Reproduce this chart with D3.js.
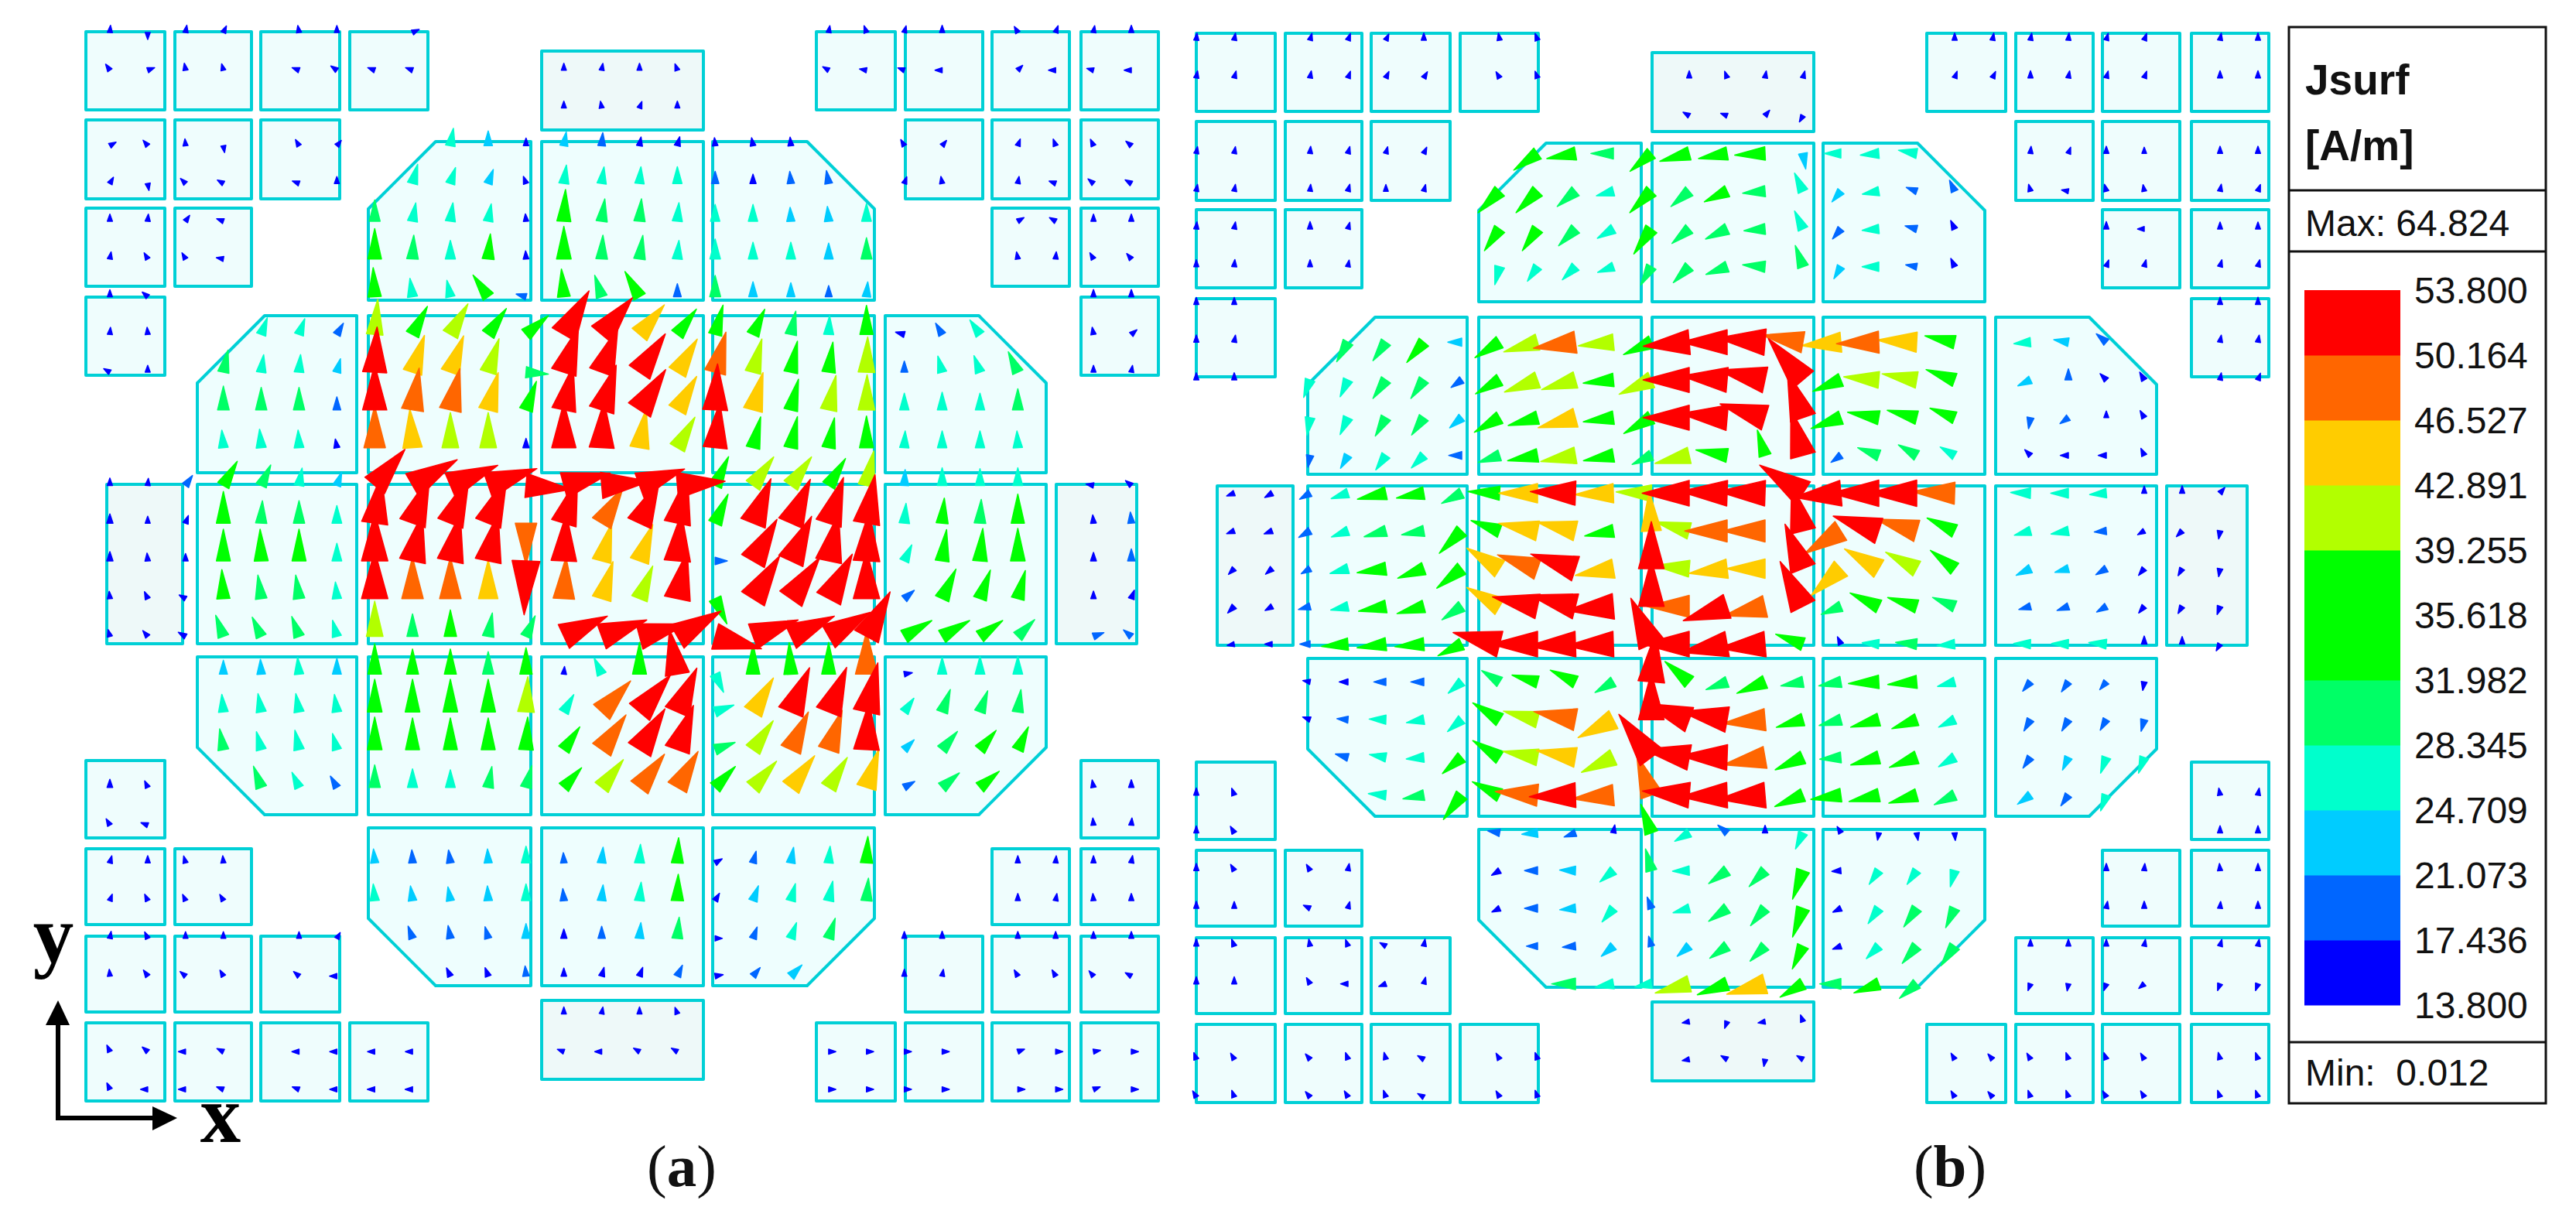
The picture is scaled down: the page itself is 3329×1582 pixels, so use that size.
<!DOCTYPE html>
<html>
<head>
<meta charset="utf-8">
<style>
  html, body { margin: 0; background: #fff; }
  svg { display: block; }
  text { font-family: "Liberation Sans", Arial, sans-serif; fill: #111; }
</style>
<script src="https://cdnjs.cloudflare.com/ajax/libs/d3/7.8.5/d3.min.js"></script>
</head>
<body>
<div id="chart"></div>
<script>
// legend values, from the colour bar
var legendTicks = [53.800, 50.164, 46.527, 42.891, 39.255, 35.618, 31.982, 28.345, 24.709, 21.073, 17.436, 13.800];
var bandThresholds = [17.436, 21.073, 24.709, 28.345, 31.982, 35.618, 39.255, 42.891, 46.527, 50.164];
var bandColors = ["#0000ff", "#0066ff", "#00ccff", "#00ffcc", "#00ff66", "#00ff00", "#00ff00", "#b2ff00", "#ffcc00", "#ff6600", "#ff0000"];
var legendTitle = ["Jsurf", "[A/m]"];
var legendMax = "Max: 64.824";
var legendMin = "Min:  0.012";

// patch layout of the array, model units measured from the array centre
var smallX = [[-694,-592],[-579,-480],[-468,-366],[-353,-252],[250,352],[365,465],[477,577],[592,692]];
var smallY = [[-691,-590],[-577,-475],[-463,-362],[-348,-247],[251,351],[365,463],[478,576],[590,691]];
var smallRows = [[0,1,2,3,4,5,6,7],[0,1,2,5,6,7],[0,1,6,7],[0,7],[0,7],[0,1,6,7],[0,1,2,5,6,7],[0,1,2,3,4,5,6,7]];
var bigX = [[-550,-344],[-329,-119],[-105,104],[116,325],[339,547]];
var bigY = [[-549,-344],[-324,-121],[-106,100],[117,321],[338,542]];
var bigCells = [[1,0,"tl"],[2,0,""],[3,0,"tr"],
  [0,1,"tl"],[1,1,""],[2,1,""],[3,1,""],[4,1,"tr"],
  [0,2,""],[1,2,""],[2,2,""],[3,2,""],[4,2,""],
  [0,3,"bl"],[1,3,""],[2,3,""],[3,3,""],[4,3,"br"],
  [1,4,"bl"],[2,4,""],[3,4,"br"]];
var narrowX = [[-667,-569],[560,664]];
var narrowY = [[-666,-564],[561,663]];

function span(a, b) { return d3.range(a, b + 1); }

// surface current samples, one entry per mesh row: mesh columns, magnitude (A/m), direction (deg, 0 = +y, clockwise)
var colsA = [
  [0,1,2,3,5,6,8,19,20,21,22,24,25,26,27],
  [0,1,2,3,5,6,7,8,...span(12,15),19,20,21,22,24,25,26,27],
  span(12,15),
  [0,1,2,3,5,6,...span(9,18),21,22,24,25,26,27],
  [0,1,2,3,5,6,...span(8,19),21,22,24,25,26,27],
  [0,1,2,3,...span(7,20),24,25,26,27],
  [0,1,2,3,...span(7,20),24,25,26,27],
  [0,1,...span(7,20),26,27],
  [0,1,4,5,6,...span(7,20),21,22,23,26,27],
  [0,1,...span(3,24),26,27],
  span(3,24),
  span(3,24),
  [0,1,2,...span(3,24),26,27],
  [0,1,2,...span(3,24),26,27],
  [0,1,2,...span(3,24),26,27],
  [0,1,2,...span(3,24),26,27],
  [0,1,2,...span(3,24),26,27],
  span(3,24),
  span(3,24),
  span(3,24),
  [0,1,...span(4,23),26,27],
  [0,1,26,27],
  [0,1,2,3,...span(7,20),24,25,26,27],
  [0,1,2,3,...span(7,20),24,25,26,27],
  [0,1,2,3,5,6,...span(8,19),21,22,24,25,26,27],
  [0,1,2,3,5,6,...span(9,18),21,22,24,25,26,27],
  span(12,15),
  [0,1,2,3,5,6,7,8,...span(12,15),19,20,21,22,24,25,26,27],
  [0,1,2,3,5,6,7,8,19,20,21,22,24,25,26,27]
];
var magA = [
  [8,7,9,8,8,7,9,7,8,7,8,7,8,7,8],
  [9,9,8,6,9,9,9,9,7,7,7,7,7,8,7,8,7,8,7,8,8,7],
  [7,7,7,7],
  [8,8,7,7,8,7,26,23,10,22,21,15,17,12,12,14,8,7,8,8,8,8],
  [8,8,8,7,8,7,28,25,23,10,27,25,25,25,20,17,20,21,8,8,8,7,8,8],
  [8,8,8,8,29,27,27,26,9,37,30,30,27,25,25,22,23,26,8,8,8,8],
  [8,8,8,8,36,31,27,32,12,38,31,31,27,28,25,25,24,29,8,8,8,8],
  [7,8,35,27,25,33,18,34,30,35,21,29,23,22,19,23,8,8],
  [8,8,26,25,21,41,37,41,37,35,57,55,45,37,36,34,31,27,35,16,21,26,9,9],
  [8,7,30,26,26,22,52,45,45,41,30,54,54,53,45,48,40,37,36,41,19,25,26,30,7,7],
  [31,30,30,21,52,49,49,45,36,52,54,55,45,53,45,37,41,41,25,26,25,29],
  [26,27,26,15,48,45,41,41,17,52,53,45,41,52,37,37,36,37,25,25,25,25],
  [9,8,20,34,30,26,22,54,58,58,58,52,55,55,55,55,37,41,41,37,41,24,26,25,26,10,10],
  [17,7,12,37,30,30,26,55,57,57,57,48,54,48,54,56,37,55,55,55,56,28,32,31,35,13,19],
  [17,11,9,37,37,37,26,55,55,55,55,60,54,45,45,55,20,55,56,55,56,26,37,38,38,14,20],
  [9,10,9,35,31,31,25,55,48,48,45,20,48,45,41,55,34,57,57,57,55,21,38,36,35,10,16],
  [8,10,13,30,29,29,25,41,30,33,31,30,55,55,55,57,55,55,55,55,57,37,37,34,31,19,18],
  [22,23,25,24,36,32,32,30,33,10,26,37,52,28,36,37,37,49,12,25,26,26],
  [26,27,27,26,38,38,38,38,41,28,49,55,55,28,46,55,55,57,25,31,30,30],
  [29,27,28,25,38,37,37,37,38,34,49,55,54,29,41,48,48,54,22,31,32,32],
  [12,8,30,25,21,30,27,26,29,30,33,41,48,48,35,41,46,41,46,20,30,32,10,10],
  [9,8,8,8],
  [9,8,8,8,22,21,21,22,25,18,24,27,32,12,20,24,25,33,8,8,8,9],
  [7,8,7,8,25,23,22,23,25,20,24,27,33,14,24,26,28,30,8,8,8,8],
  [8,8,6,6,6,6,21,21,20,23,17,20,24,29,8,20,25,29,7,8,7,7,7,7],
  [7,9,8,7,8,9,16,16,18,12,16,17,20,12,19,24,7,7,8,8,7,7],
  [7,7,7,7],
  [8,8,8,8,8,8,8,8,7,7,7,7,8,8,8,8,8,8,8,8],
  [8,8,8,8,8,8,9,9,8,8,8,8,8,8,8,8]
];
var angA = [
  [5,180,10,25,-10,0,65,10,-20,15,0,-30,20,10,0],
  [-35,70,-10,-15,-70,-55,-70,-70,0,10,0,-20,-60,-80,-70,-90,45,-90,-75,-90,-70,-50],
  [0,-10,20,0],
  [60,-40,-5,170,-30,40,10,0,0,10,5,10,15,-5,-10,-5,-30,40,20,-20,-25,-50],
  [30,170,-45,-60,-70,0,15,18,20,-20,8,8,5,0,0,0,-5,-10,20,-10,10,-70,-50,-60],
  [0,5,35,-70,0,10,8,10,-5,3,8,5,5,0,0,-3,-5,0,60,-60,0,0],
  [10,-30,-30,-80,0,3,0,5,-3,0,3,8,5,0,0,0,0,0,-10,5,-30,-40],
  [0,-50,-3,-8,-12,-35,-75,-5,-18,-30,0,0,0,0,0,5,0,0],
  [5,-5,20,20,30,5,28,30,35,50,30,40,40,37,15,25,12,3,0,-75,-30,-35,-10,50],
  [-60,0,12,8,5,15,3,18,20,18,95,18,20,34,31,15,15,12,8,2,0,-15,-20,-25,0,10],
  [0,0,0,0,0,9,13,15,20,12,18,33,30,3,15,14,12,1,0,0,0,0],
  [-5,-5,-3,-10,0,-4,0,0,0,0,3,10,30,6,14,12,11,0,3,0,0,-3],
  [0,5,35,30,25,10,20,40,60,67,71,95,75,85,70,85,25,36,36,32,12,3,0,0,0,-80,-50],
  [0,0,20,0,3,0,0,8,20,22,22,180,17,31,25,12,24,22,24,18,10,5,5,3,0,-5,-5],
  [0,-5,0,0,-2,0,0,0,12,12,12,182,3,15,20,5,90,30,25,12,3,25,8,5,0,0,0],
  [-5,-25,-60,-3,-8,-8,-5,0,0,0,0,0,3,17,22,12,155,32,35,28,0,50,25,20,15,0,20],
  [-15,-40,-60,-20,-25,-20,-15,0,0,0,10,24,65,70,75,60,105,70,65,60,28,60,60,55,45,70,-50],
  [0,-3,-5,0,0,0,0,0,0,5,-25,0,-10,155,0,-3,0,0,80,0,0,0],
  [-5,-10,-10,-8,0,0,0,0,3,30,43,40,24,70,31,23,22,13,35,20,20,8],
  [-10,-15,-12,-15,0,0,0,0,3,35,35,32,20,70,35,25,19,3,45,40,40,25],
  [0,-25,-20,-25,-30,0,0,0,10,15,42,38,37,30,44,42,37,32,18,60,50,50,-10,0],
  [-30,-70,-5,5],
  [15,0,-15,-5,-5,-3,-8,-3,0,-3,5,3,3,60,15,10,5,3,0,5,0,10],
  [20,-25,-25,-30,-5,-8,-10,-3,0,-5,5,5,2,30,20,15,12,5,0,10,-5,0],
  [10,-25,0,0,0,30,-20,-10,-15,0,0,0,5,5,90,20,20,18,0,0,0,0,0,0],
  [-5,-35,-50,-30,-50,-90,-25,-20,-5,0,15,20,25,80,40,45,0,10,-30,-30,-40,-60],
  [0,10,0,-20],
  [-25,-50,-90,-65,-90,-90,-90,-90,-70,-90,-60,-60,90,90,90,90,70,90,80,90],
  [-25,-90,-90,-70,-70,-90,-90,-90,90,90,90,90,90,90,70,90]
];

var colsB = [
  [-1,0,2,3,4,5,7,8,19,20,21,22,23,24,26,27],
  [-1,0,2,3,4,5,7,8,...span(12,15),19,20,21,22,23,24,26,27],
  span(12,15),
  [-1,0,2,3,4,5,...span(8,18),21,22,23,24,26,27],
  [-1,0,2,3,4,5,...span(7,19),21,22,23,24,26,27],
  [-1,0,2,3,...span(7,19),23,24,26,27],
  [-1,0,2,3,...span(7,19),23,24,26,27],
  [-1,0,26,27],
  [-1,0,...span(3,19),21,22,23,26,27],
  [-1,0,...span(2,19),21,22,23,24,26,27],
  [...span(2,19),21,22,23,24],
  [...span(2,19),21,22,23,24],
  [...span(0,19),21,22,23,24,25,26],
  [...span(0,19),21,22,23,24,25,26],
  [...span(0,19),21,22,23,24,25,26],
  [...span(0,19),21,22,23,24,25,26],
  [...span(0,19),21,22,23,24,25,26],
  [...span(2,19),21,22,23,24],
  [...span(2,19),21,22,23,24],
  [...span(3,19),21,22,23,24],
  [-1,0,...span(4,19),21,22,23,26,27],
  [-1,0,...span(7,19),26,27],
  [-1,0,2,3,...span(7,19),23,24,26,27],
  [-1,0,2,3,...span(7,19),23,24,26,27],
  [-1,0,2,3,4,5,...span(8,19),21,22,23,24,26,27],
  [-1,0,2,3,4,5,...span(9,18),21,22,23,24,26,27],
  span(12,15),
  [-1,0,2,3,4,5,7,8,...span(12,15),19,20,21,22,23,24,26,27],
  [-1,0,2,3,4,5,7,8,19,20,21,22,23,24,26,27]
];
var magB = [
  [8,8,8,8,7,8,8,8,8,8,8,8,8,8,8,8],
  [8,8,8,8,8,8,8,8,8,8,8,8,8,8,8,8,8,8,8,8,8,8],
  [8,7,8,8],
  [7,7,8,8,7,7,35,35,30,34,36,35,36,24,25,27,27,8,6,8,4,8,8],
  [7,7,7,8,6,7,36,36,31,26,36,31,32,30,28,22,25,19,20,8,7,8,6,8,8],
  [8,8,9,7,33,33,31,27,36,30,31,29,28,21,25,20,17,9,6,7,7],
  [7,8,7,6,27,26,27,25,29,30,30,30,30,22,25,19,16,8,8,8,8],
  [7,7,8,8],
  [8,8,30,30,33,22,35,41,49,41,36,53,53,55,48,46,49,46,36,25,23,21,8,8],
  [8,8,27,27,30,30,21,34,41,41,36,41,53,53,55,60,36,41,41,36,22,19,15,16,8,8],
  [26,27,29,29,24,35,36,45,36,37,53,54,54,55,37,37,36,33,19,18,6,12],
  [20,23,26,26,21,30,36,41,36,29,41,37,33,54,20,30,29,25,12,12,12,11],
  [12,14,20,26,35,34,30,37,45,52,45,41,54,54,54,58,54,55,55,49,28,26,25,8,9,9],
  [12,14,21,26,30,30,37,36,46,46,35,46,41,49,49,54,49,55,49,36,25,26,20,10,12,12],
  [12,14,18,27,35,34,37,45,49,54,45,54,41,45,45,55,46,46,41,36,24,22,20,15,12,12],
  [17,12,20,26,34,34,31,44,53,54,54,54,49,53,49,57,29,37,36,31,20,20,19,14,12,14],
  [8,9,18,33,35,35,33,55,54,54,54,57,54,54,54,35,12,25,29,26,25,25,26,12,10,10],
  [9,15,20,21,26,29,33,34,29,56,37,30,36,30,30,36,35,26,20,20,18,14],
  [11,19,25,26,27,37,41,49,46,54,54,54,49,34,30,35,33,26,21,21,20,20],
  [21,25,26,32,37,41,46,41,60,54,54,49,36,29,35,35,27,21,22,25,25],
  [8,9,26,29,36,36,49,53,48,49,54,54,54,36,36,36,35,30,24,21,25,8,8],
  [7,10,20,24,20,12,36,25,20,10,26,9,9,10,10,8,8],
  [8,8,8,8,17,21,24,26,30,25,30,30,36,16,25,25,25,8,8,8,8],
  [8,7,9,7,14,21,24,26,20,25,30,30,36,15,27,30,29,8,8,7,8],
  [8,9,8,7,7,8,19,21,24,18,24,29,29,32,15,26,30,31,7,7,7,7,7,7],
  [8,8,8,9,10,7,31,27,25,41,37,46,33,29,33,30,8,8,8,8,8,8],
  [8,8,8,8],
  [8,8,8,8,8,8,8,8,8,8,8,8,8,8,8,8,8,8,8,8,8,8],
  [8,8,8,8,8,8,8,8,8,8,8,8,8,8,8,8]
];
var angB = [
  [5,10,15,20,25,0,-10,-20,0,10,10,5,15,20,10,0],
  [10,15,10,20,25,30,-30,-20,0,-20,10,15,20,25,0,10,15,20,0,0,15,10],
  [-60,-70,40,-150],
  [10,10,5,15,15,25,-125,-100,-90,-130,-105,-100,-93,170,-90,-95,-80,5,20,0,0,0,0],
  [10,10,5,15,0,15,-135,-135,-130,-105,-135,-130,-115,-95,-25,-140,-100,-70,-25,-15,-80,-15,-10,10,20],
  [5,10,0,15,-145,-145,-135,-120,-145,-130,-115,-95,-25,-140,-95,-75,-25,0,-90,0,0],
  [0,5,0,10,-165,-145,-135,-110,-150,-135,-110,-85,-20,-150,-90,-80,-25,20,15,15,15],
  [0,0,0,0],
  [0,10,-150,-145,-140,-90,-122,-106,-98,-96,-114,-95,-90,-85,-80,-95,-92,-87,-78,-95,-80,-50,10,10],
  [0,0,-160,-155,-145,-145,-125,-120,-110,-106,-96,-114,-90,-85,-78,-40,-112,-85,-80,-70,-115,0,-45,-30,10,20],
  [-170,-155,-150,-145,-130,-120,-105,-105,-98,-120,-90,-85,-73,-19,-110,-80,-76,-69,-170,-125,0,-30],
  [-170,-150,-145,-135,-90,-108,-100,-100,-100,-115,-103,-80,-17,-15,-125,-70,-60,-60,-45,-90,-90,-25],
  [-110,-120,-120,-108,-102,-100,-117,-87,-90,-88,-92,-88,-90,-88,-88,-57,-95,-90,-90,-88,-88,-90,-95,0,0,40],
  [-110,-110,-120,-110,-105,-100,-135,-70,-79,-77,-100,-3,-75,-90,-90,-14,-122,-72,-74,-65,-105,-100,-95,-120,-135,-170],
  [-135,-130,-120,-105,-98,-110,-128,-58,-71,-72,-100,0,-85,-97,-90,-22,-132,-60,-62,-53,-115,-105,-120,-140,-150,-170],
  [-135,-120,-105,-102,-100,-105,-124,-60,-78,-76,-95,0,-90,-108,-103,-27,-112,-65,-73,-68,-105,-110,-120,-140,-150,-160],
  [-100,-90,-90,-95,-97,-95,-116,-76,-90,-92,-92,-24,-90,-100,-95,-70,-25,-85,-85,-95,-88,-88,-85,0,0,-150],
  [-80,-90,-90,-90,-130,-58,-75,-65,-120,5,-50,-110,-112,-100,-100,-93,-95,-105,-140,-145,-140,-170],
  [-70,-85,-88,-100,-130,-58,-76,-79,-117,0,-70,-80,-95,-106,-105,-105,-110,-115,-150,-150,-150,-165],
  [-75,-80,-95,-130,-58,-80,-80,-115,-37,-80,-88,-100,-114,-95,-105,-110,-120,-145,-155,-160,-160],
  [0,-20,-85,-100,-143,-64,-85,-92,-95,-20,-85,-92,-95,-112,-98,-102,-106,-115,-125,-145,-160,-10,10],
  [0,-30,-80,-95,-110,10,-20,-120,-50,0,-155,-30,-170,170,175,0,0],
  [0,-30,-30,10,-120,-90,-88,-130,-15,-92,-125,-135,-160,-95,-145,-145,-165,0,5,-5,0],
  [0,0,-65,15,-115,-90,-95,-140,-20,-105,-125,-140,-160,-115,-145,-145,-155,10,0,5,0],
  [0,-20,-10,-20,-60,10,-90,-95,-130,-15,-130,-125,-135,-155,-110,-135,-140,-145,0,0,0,10,15,10],
  [0,0,-30,-90,-110,15,-90,-100,-100,-105,-110,-105,-120,-90,-110,-130,-160,-170,-160,-130,-160,-160],
  [-100,-160,-100,-20],
  [-20,-30,-40,-20,-15,-60,-30,-20,-100,-60,-170,-60,-30,-40,-30,-20,-20,-30,-15,-20,-30,-20],
  [-30,-20,-40,-30,-20,-60,-30,-20,-30,-40,-20,-20,-30,-30,-20,-20]
];

var width = 3329, height = 1582;

// page position of the mesh and of the patches for the two panels
var panels = [
  { cols: colsA, mag: magA, ang: angA,
    meshX: d3.scaleLinear([0, 27], [142, 1462]), meshY: d3.scaleLinear([0, 28], [42, 1408]),
    modelX: d3.scaleLinear([-1000, 1000], [-195, 1805]), modelY: d3.scaleLinear([-1000, 1000], [-268, 1732]) },
  { cols: colsB, mag: magB, ang: angB,
    meshX: d3.scaleLinear([-1, 27], [1546, 2918]), meshY: d3.scaleLinear([0, 28], [52, 1418]),
    modelX: d3.scaleLinear([-1000, 1000], [1240, 3240]), modelY: d3.scaleLinear([-1000, 1000], [-266, 1734]) }
];

var bandColor = d3.scaleThreshold().domain(bandThresholds).range(bandColors);
var arrowLength = d3.scaleLinear().domain([4, 17, 27, 37, 45, 55, 70]).range([8, 12, 24, 41, 50, 62, 85]);
var arrowWidth = d3.scaleLinear().domain([4, 17, 27, 37, 45, 55, 70]).range([6, 8, 13, 18, 25, 34, 40]);

var svg = d3.select("#chart").append("svg")
    .attr("width", width)
    .attr("height", height);

function buildPatches() {
  var out = [];
  smallRows.forEach(function(row, r) {
    row.forEach(function(c) {
      out.push({ x: smallX[c], y: smallY[r], cut: "", fill: "#effdfd" });
    });
  });
  bigCells.forEach(function(d) {
    out.push({ x: bigX[d[0]], y: bigY[d[1]], cut: d[2], fill: "#eefefe" });
  });
  narrowX.forEach(function(x) { out.push({ x: x, y: bigY[2], cut: "", fill: "#eef9f9" }); });
  narrowY.forEach(function(y) { out.push({ x: bigX[2], y: y, cut: "", fill: "#eef9f9" }); });
  return out;
}

function patchPath(d, sx, sy) {
  var c = 87;
  var x0 = d.x[0], x1 = d.x[1], y0 = d.y[0], y1 = d.y[1];
  var pts = [];
  if (d.cut == "tl") pts.push([x0, y0 + c], [x0 + c, y0]); else pts.push([x0, y0]);
  if (d.cut == "tr") pts.push([x1 - c, y0], [x1, y0 + c]); else pts.push([x1, y0]);
  if (d.cut == "br") pts.push([x1, y1 - c], [x1 - c, y1]); else pts.push([x1, y1]);
  if (d.cut == "bl") pts.push([x0 + c, y1], [x0, y1 - c]); else pts.push([x0, y1]);
  return d3.line().x(function(p) { return sx(p[0]); }).y(function(p) { return sy(p[1]); })(pts) + "Z";
}

function flatten(p) {
  var out = [];
  p.cols.forEach(function(row, j) {
    row.forEach(function(c, k) {
      out.push({ col: c, row: j, mag: p.mag[j][k], ang: p.ang[j][k] });
    });
  });
  return out;
}

var patches = buildPatches();

panels.forEach(function(p) {
  var g = svg.append("g");

  g.selectAll(".patch")
      .data(patches)
      .enter()
      .append("path")
      .attr("class", "patch")
      .attr("d", function(d) { return patchPath(d, p.modelX, p.modelY); })
      .attr("fill", function(d) { return d.fill; })
      .attr("stroke", "#00d0d6")
      .attr("stroke-width", 4)
      .attr("stroke-linejoin", "round");

  // low arrows first so that the red ones sit on top
  var arrows = flatten(p).sort(function(a, b) { return a.mag - b.mag; });

  g.selectAll(".arrow")
      .data(arrows)
      .enter()
      .append("path")
      .attr("class", "arrow")
      .attr("transform", function(d) {
        return "translate(" + p.meshX(d.col) + "," + p.meshY(d.row) + ") rotate(" + d.ang + ")";
      })
      .attr("d", function(d) {
        var l = arrowLength(d.mag), w = arrowWidth(d.mag) / 2;
        return "M0," + (-l) + "L" + w + ",0L" + (-w) + ",0Z";
      })
      .attr("fill", function(d) { return bandColor(d.mag); })
      .attr("stroke", function(d) { return bandColor(d.mag); })
      .attr("stroke-width", 1.5)
      .attr("stroke-linejoin", "round");
});

// panel captions
var captions = svg.selectAll(".caption")
    .data(["a", "b"])
    .enter()
    .append("text")
    .attr("class", "caption")
    .attr("x", function(d, i) { return [881, 2520][i]; })
    .attr("y", 1533)
    .attr("text-anchor", "middle")
    .style("font-family", "Liberation Serif")
    .style("font-size", "77px");
captions.append("tspan").text("(");
captions.append("tspan").style("font-weight", "bold").text(function(d) { return d; });
captions.append("tspan").text(")");

// x / y axis glyph
var ink = "#000";
var axisGlyph = svg.append("g");
axisGlyph.append("path")
    .attr("d", "M75,1323V1445H198")
    .attr("fill", "none")
    .attr("stroke", ink)
    .attr("stroke-width", 6);
axisGlyph.append("path").attr("d", "M75,1293L90,1325H59Z").attr("fill", ink);
axisGlyph.append("path").attr("d", "M229,1445L197,1430V1461Z").attr("fill", ink);
axisGlyph.selectAll("text")
    .data([["y", 69, 1243], ["x", 285, 1476]])
    .enter()
    .append("text")
    .attr("x", function(d) { return d[1]; })
    .attr("y", function(d) { return d[2]; })
    .attr("text-anchor", "middle")
    .style("font-family", "Liberation Serif")
    .style("font-weight", "bold")
    .style("font-size", "105px")
    .style("fill", ink)
    .text(function(d) { return d[0]; });

// legend
var legend = svg.append("g");
legend.append("rect")
    .attr("x", 2958).attr("y", 35).attr("width", 332).attr("height", 1391)
    .attr("fill", "#fff").attr("stroke", "#111").attr("stroke-width", 3);
legend.selectAll("line")
    .data([246, 325, 1347])
    .enter()
    .append("line")
    .attr("x1", 2958).attr("x2", 3290)
    .attr("y1", function(d) { return d; }).attr("y2", function(d) { return d; })
    .attr("stroke", "#111").attr("stroke-width", 3);

var legendY = d3.scaleLinear().domain([13.8, 53.8]).range([1299, 375]);
var edges = [13.8].concat(bandThresholds, [53.8]);
legend.selectAll(".band")
    .data(bandColors)
    .enter()
    .append("rect")
    .attr("class", "band")
    .attr("x", 2978)
    .attr("width", 124)
    .attr("y", function(d, i) { return legendY(edges[i + 1]); })
    .attr("height", function(d, i) { return legendY(edges[i]) - legendY(edges[i + 1]) + 0.5; })
    .attr("fill", function(d) { return d; });

var legendAxis = legend.append("g")
    .attr("transform", "translate(3102,0)")
    .call(d3.axisRight(legendY).tickValues(legendTicks).tickFormat(d3.format(".3f")).tickSize(0).tickPadding(18));
legendAxis.select(".domain").remove();
legendAxis.selectAll("text")
    .style("font-family", "Liberation Sans")
    .style("font-size", "48px")
    .attr("dy", "0.35em");

legend.selectAll(".title")
    .data(legendTitle)
    .enter()
    .append("text")
    .attr("class", "title")
    .attr("x", 2979)
    .attr("y", function(d, i) { return [122, 207][i]; })
    .style("font-weight", "bold")
    .style("font-size", "55px")
    .text(function(d) { return d; });

legend.selectAll(".range")
    .data([legendMax, legendMin])
    .enter()
    .append("text")
    .attr("class", "range")
    .attr("x", 2979)
    .attr("y", function(d, i) { return [305, 1403][i]; })
    .style("font-size", "48px")
    .style("white-space", "pre")
    .text(function(d) { return d; });
</script>
</body>
</html>
